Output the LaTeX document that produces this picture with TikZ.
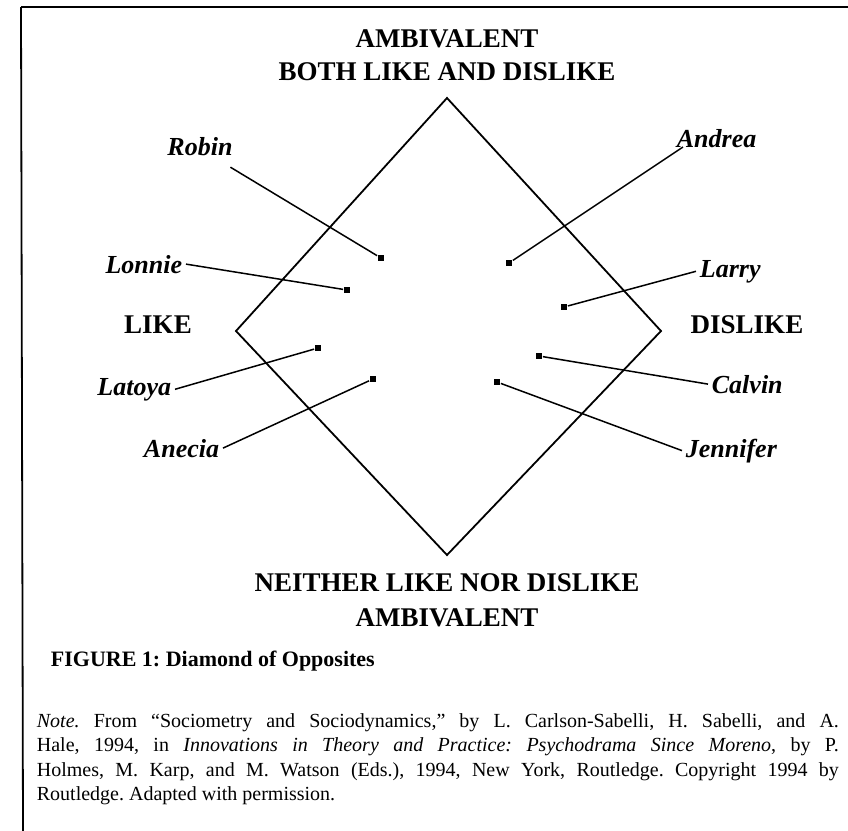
\documentclass[tikz,border=0pt]{standalone}
\usepackage{fontspec}
\setmainfont{Liberation Serif}
\frenchspacing
\tikzset{
    every path/.style={line width=0.9pt},
    head/.style={font=\fontsize{13.5}{15}\selectfont\bfseries, inner sep=0pt},
    who/.style={font=\fontsize{13}{15}\selectfont\bfseries\itshape, inner sep=1.5pt},
    spot/.style={rectangle, fill, inner sep=0pt, minimum size=3pt},
    tie/.style={line width=0.75pt}
}
\begin{document}
\begin{tikzpicture}[x=0.5pt,y=-0.5pt]
\useasboundingbox (0,0) rectangle (848,831);
% frame
\draw (21,7) -- (848,7);
\draw (21,7) -- (23,831);
% diamond
\draw[line join=miter] (447,98) -- (661,331) -- (447,555) -- (236,331) -- cycle;

\node[head,anchor=base] (amb1) at (447,47) {AMBIVALENT};
\node[head,anchor=base] (both) at (447,80) {BOTH LIKE AND DISLIKE};
\node[head,anchor=base] (neither) at (447,591) {NEITHER LIKE NOR DISLIKE};
\node[head,anchor=base] (amb2) at (447,626) {AMBIVALENT};
\node[head,anchor=base] (like) at (158,333) {LIKE};
\node[head,anchor=base] (dislike) at (747,333) {DISLIKE};

% names
\node[who,anchor=base] (robin) at (200,155) {Robin};
\node[who,anchor=base east] (lonnie) at (186,273) {Lonnie};
\node[who,anchor=base east] (latoya) at (175,395) {Latoya};
\node[who,anchor=base east] (anecia) at (223,457) {Anecia};
\node[who,anchor=base west] (andrea) at (673,147) {Andrea};
\node[who,anchor=base west] (larry) at (696,277) {Larry};
\node[who,anchor=base west] (calvin) at (708,393) {Calvin};
\node[who,anchor=base west] (jennifer) at (682,457) {Jennifer};

% points
\node[spot] (d-robin) at (381,258) {};
\node[spot] (d-lonnie) at (347,290) {};
\node[spot] (d-latoya) at (318,348) {};
\node[spot] (d-anecia) at (373,379) {};
\node[spot] (d-andrea) at (509,263) {};
\node[spot] (d-larry) at (564,307) {};
\node[spot] (d-calvin) at (539,356) {};
\node[spot] (d-jennifer) at (497,382) {};

\draw[tie] ([shift={(-3pt,-4pt)}]robin.south east) -- (d-robin);
\draw[tie] (lonnie.east) -- (d-lonnie);
\draw[tie] (latoya.east) -- (d-latoya);
\draw[tie] (anecia.east) -- (d-anecia);
\draw[tie] ([xshift=5pt]andrea.base west) -- (d-andrea);
\draw[tie] (larry.west) -- (d-larry);
\draw[tie] (calvin.west) -- (d-calvin);
\draw[tie] (jennifer.west) -- (d-jennifer);

\node[anchor=base west, inner sep=0pt, font=\fontsize{11}{13}\selectfont\bfseries] (caption) at (50,666) {FIGURE 1: Diamond of Opposites};

\node[anchor=base west, inner sep=0pt, text width=401pt, align=justify,
      font=\fontsize{10}{12.25}\selectfont] (note) at (36,727)
  {\textit{Note.} From “Sociometry and Sociodynamics,” by L. Carlson-Sabelli, H. Sabelli, and A.\linebreak
   Hale, 1994, in \textit{Innovations in Theory and Practice: Psychodrama Since Moreno}, by P.\linebreak
   Holmes, M. Karp, and M. Watson (Eds.), 1994, New York, Routledge. Copyright 1994 by\linebreak
   Routledge. Adapted with permission.};
\end{tikzpicture}
\end{document}
